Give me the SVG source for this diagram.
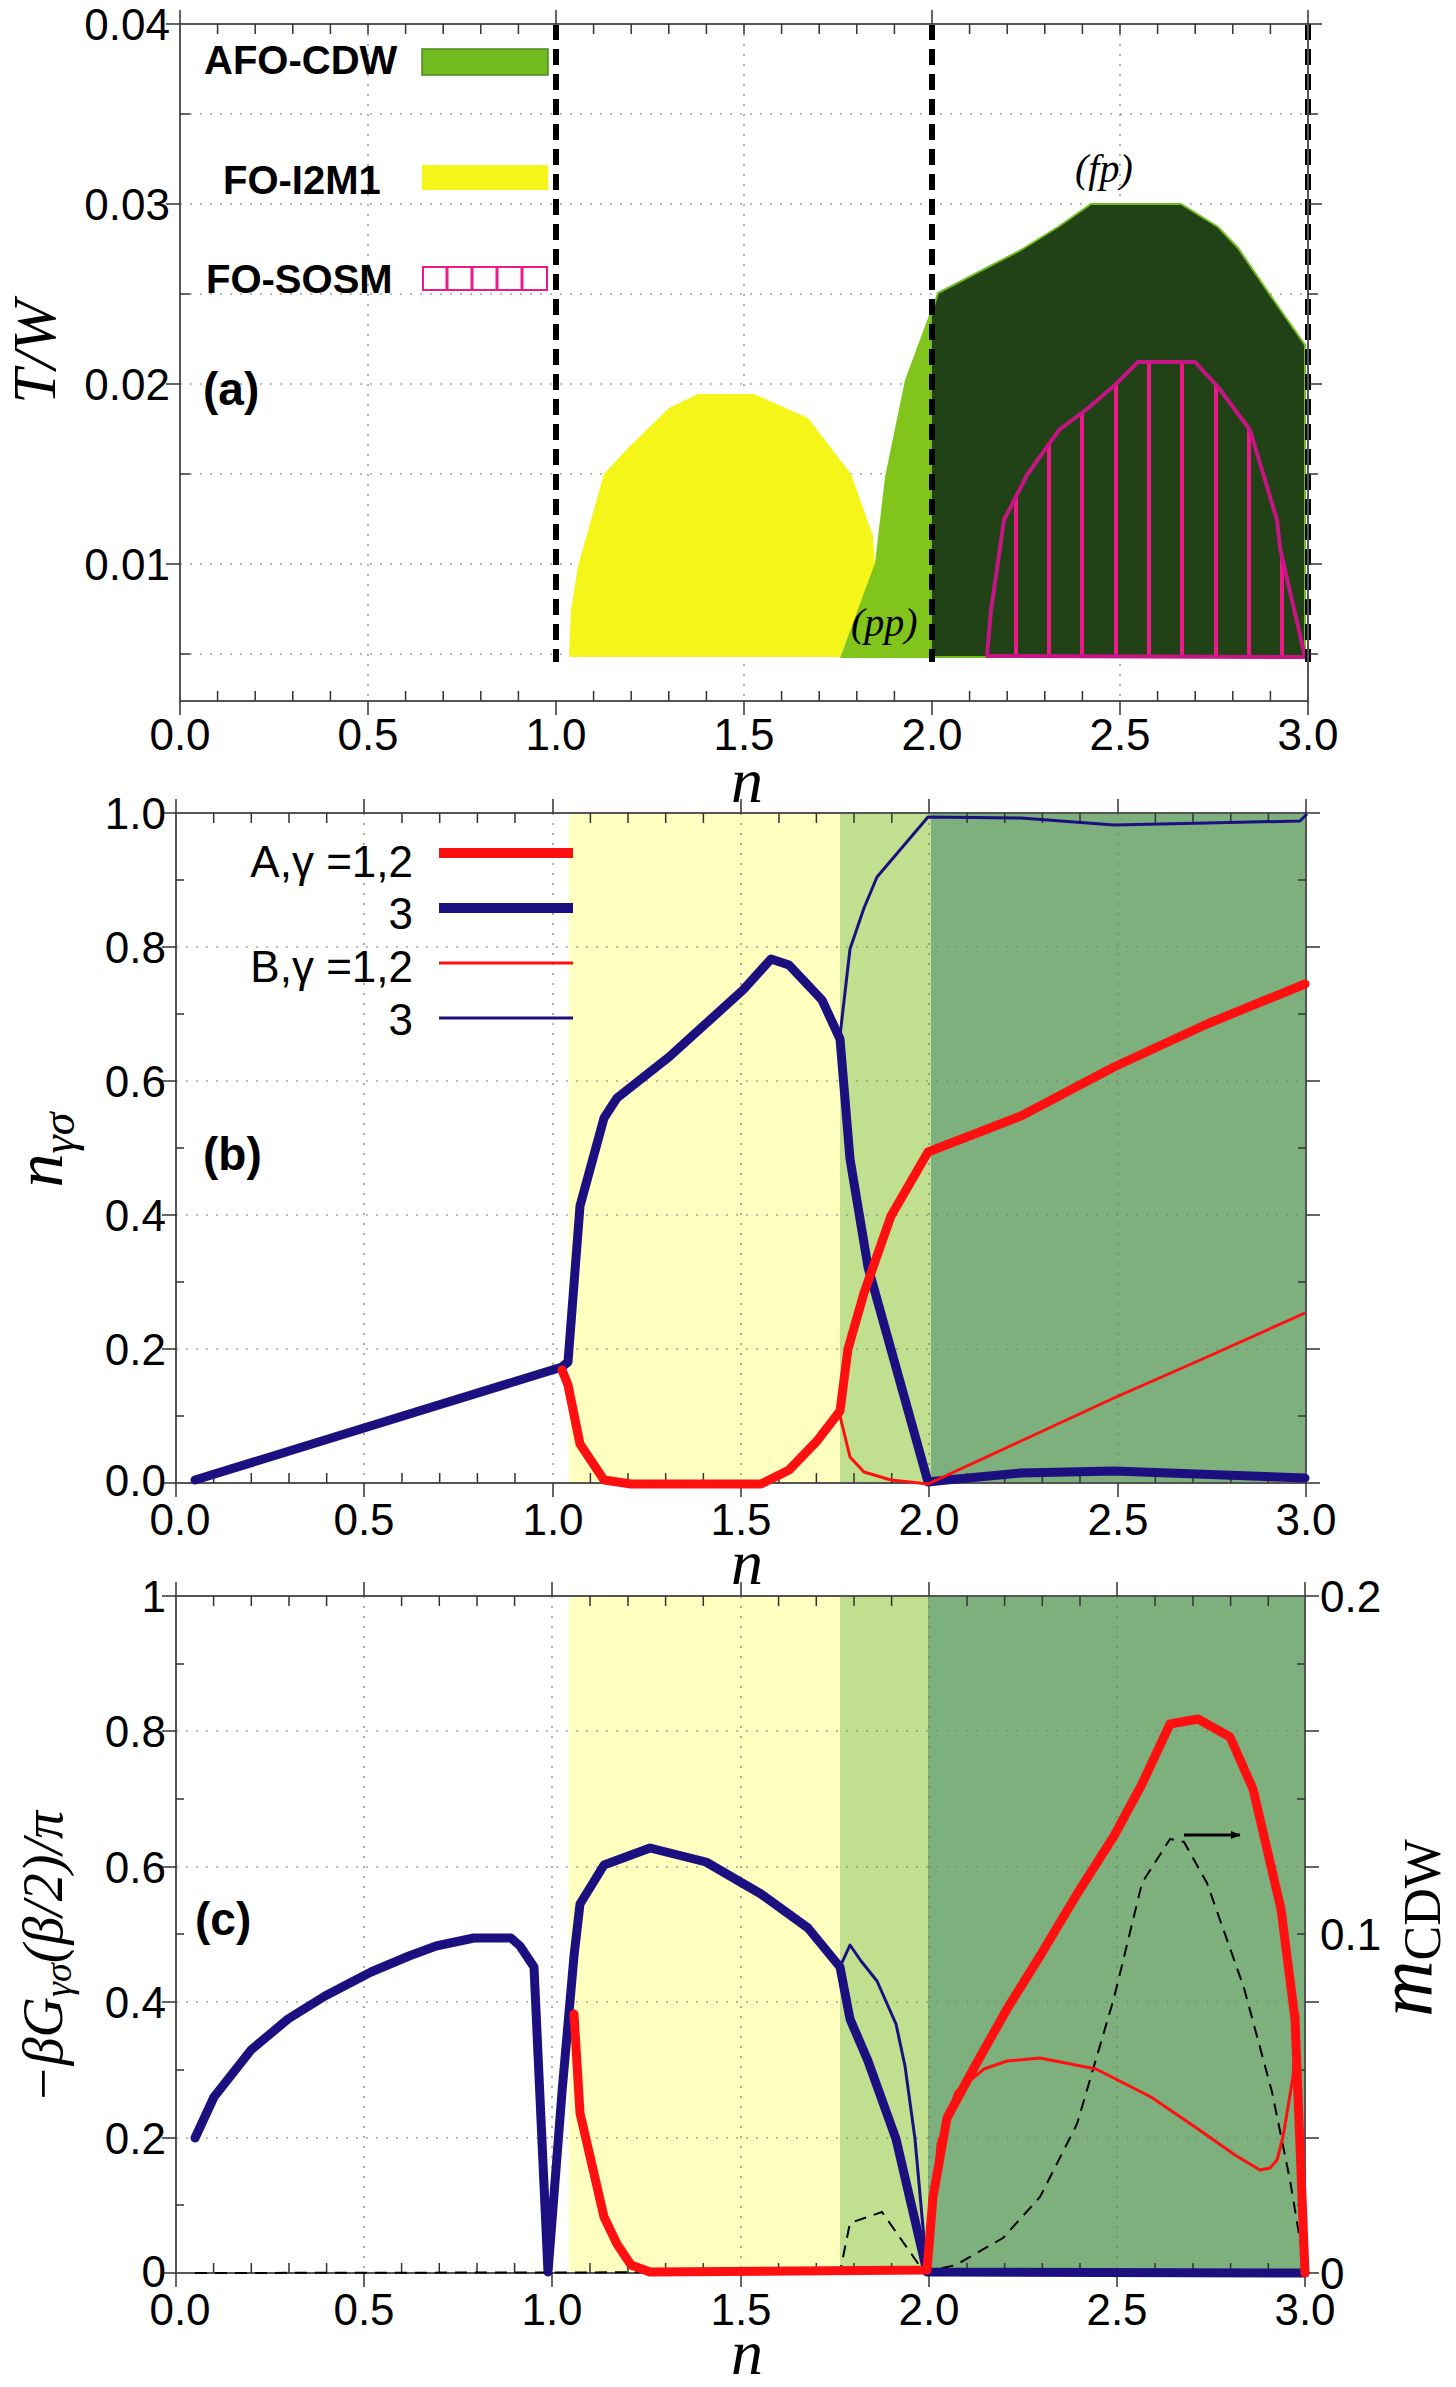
<svg xmlns="http://www.w3.org/2000/svg" width="1456" height="2387" viewBox="0 0 1456 2387">
<style>
.t{font-family:"Liberation Sans",Arial,sans-serif;font-size:44px;fill:#000}
.b{font-family:"Liberation Sans",Arial,sans-serif;font-weight:bold;fill:#000}
.m{font-family:"Liberation Serif","DejaVu Serif",serif;font-style:italic;fill:#000}
.ax{fill:none;stroke:#555;stroke-width:2}
.tk{stroke:#333;stroke-width:1.5}
.gr{stroke:#777;stroke-width:1.2;stroke-dasharray:2 8}
.vd{stroke:#000;stroke-width:6;stroke-dasharray:16 9;fill:none}
.thk{fill:none;stroke-width:9;stroke-linejoin:round;stroke-linecap:round}
.thn{fill:none;stroke-width:3;stroke-linejoin:round}
.red{stroke:#ff1010}
.blu{stroke:#1c1080}
</style>
<defs>
<clipPath id="sosm"><polygon points="987,656 991,610 1004,520 1027,475 1059,430 1087,409 1115,385 1138,362 1195,362 1218,387 1250,430 1277,520 1280,548 1305,657"/></clipPath>
<marker id="ah" markerWidth="10" markerHeight="8" refX="9" refY="4" orient="auto" markerUnits="userSpaceOnUse"><path d="M0,0 L14,4 L0,8 Z" transform="scale(0.7,1)"/></marker>
</defs>
<rect width="1456" height="2387" fill="#fff"/>

<!-- PANEL A -->
<g id="panel-a">
<g id="grid-a">
<line class="gr" x1="180" y1="114" x2="1308" y2="114"/><line class="gr" x1="180" y1="204" x2="1308" y2="204"/><line class="gr" x1="180" y1="294" x2="1308" y2="294"/><line class="gr" x1="180" y1="384" x2="1308" y2="384"/><line class="gr" x1="180" y1="474" x2="1308" y2="474"/><line class="gr" x1="180" y1="564" x2="1308" y2="564"/><line class="gr" x1="180" y1="654" x2="1308" y2="654"/>
<line class="gr" x1="368" y1="24" x2="368" y2="701"/><line class="gr" x1="744" y1="24" x2="744" y2="701"/><line class="gr" x1="1120" y1="24" x2="1120" y2="701"/>
</g>
<polygon id="fo-i2m1" fill="#f5f51a" points="569,657 571,610 578,566 604,474 627,449 669,408 698,394 754,394 808,418 851,474 873,536 875,566 840,657"/>
<polygon id="afo-pp" fill="#80c41c" points="840,658 875,563 885,477 905,380 928,318 936,300 936,658"/>
<polygon id="afo-fp" fill="#214216" stroke="#72bb22" stroke-width="2" points="931,657 931,316 938,293 1021,250 1058,227 1091,204 1181,204 1218,227 1238,248 1277,305 1305,345 1305,657"/>
<g id="fo-sosm">
<g clip-path="url(#sosm)" stroke="#ee1a8a" stroke-width="4">
<line x1="1016" y1="300" x2="1016" y2="660"/><line x1="1049" y1="300" x2="1049" y2="660"/><line x1="1082" y1="300" x2="1082" y2="660"/><line x1="1116" y1="300" x2="1116" y2="660"/><line x1="1149" y1="300" x2="1149" y2="660"/><line x1="1182" y1="300" x2="1182" y2="660"/><line x1="1216" y1="300" x2="1216" y2="660"/><line x1="1249" y1="300" x2="1249" y2="660"/><line x1="1282" y1="300" x2="1282" y2="660"/>
</g>
<polygon fill="none" stroke="#c71585" stroke-width="4" stroke-linejoin="round" points="987,656 991,610 1004,520 1027,475 1059,430 1087,409 1115,385 1138,362 1195,362 1218,387 1250,430 1277,520 1280,548 1305,657"/>
</g>
<g id="dashes-a"><line class="vd" x1="556" y1="24" x2="556" y2="662"/><line class="vd" x1="932" y1="24" x2="932" y2="662"/><line class="vd" x1="1308" y1="24" x2="1308" y2="662"/></g>
<rect class="ax" x="180" y="24" width="1128" height="677"/>
<g id="ticks-a" class="tk">
<path d="M180,24v-14M556,24v-14M932,24v-14M1308,24v-14M180,701v14M368,701v14M556,701v14M744,701v14M932,701v14M1120,701v14M1308,701v14"/>
<path d="M217.6,24v10M255.2,24v10M292.8,24v10M330.4,24v10M368,24v10M405.6,24v10M443.2,24v10M480.8,24v10M518.4,24v10M593.6,24v10M631.2,24v10M668.8,24v10M706.4,24v10M744,24v10M781.6,24v10M819.2,24v10M856.8,24v10M894.4,24v10M969.6,24v10M1007.2,24v10M1044.8,24v10M1082.4,24v10M1120,24v10M1157.6,24v10M1195.2,24v10M1232.8,24v10M1270.4,24v10"/>
<path d="M217.6,701v-10M255.2,701v-10M292.8,701v-10M330.4,701v-10M405.6,701v-10M443.2,701v-10M480.8,701v-10M518.4,701v-10M593.6,701v-10M631.2,701v-10M668.8,701v-10M706.4,701v-10M781.6,701v-10M819.2,701v-10M856.8,701v-10M894.4,701v-10M969.6,701v-10M1007.2,701v-10M1044.8,701v-10M1082.4,701v-10M1157.6,701v-10M1195.2,701v-10M1232.8,701v-10M1270.4,701v-10"/>
<path d="M180,24h-14M180,204h-14M180,384h-14M180,564h-14M180,114h10M180,294h10M180,474h10M180,654h10M1308,24h14M1308,204h14M1308,384h14M1308,564h14M1308,114h10M1308,294h10M1308,474h10M1308,654h10"/>
</g>
<g id="labels-a">
<text class="t" text-anchor="end" x="170" y="40">0.04</text>
<text class="t" text-anchor="end" x="170" y="220">0.03</text>
<text class="t" text-anchor="end" x="170" y="400">0.02</text>
<text class="t" text-anchor="end" x="170" y="580">0.01</text>
<text class="t" text-anchor="middle" x="180" y="750">0.0</text><text class="t" text-anchor="middle" x="368" y="750">0.5</text><text class="t" text-anchor="middle" x="556" y="750">1.0</text><text class="t" text-anchor="middle" x="744" y="750">1.5</text><text class="t" text-anchor="middle" x="932" y="750">2.0</text><text class="t" text-anchor="middle" x="1120" y="750">2.5</text><text class="t" text-anchor="middle" x="1308" y="750">3.0</text>
<text class="m" font-size="64" text-anchor="middle" x="747" y="802">n</text>
<text class="m" font-size="62" text-anchor="middle" transform="translate(55,352) rotate(-90)">T/W</text>
<text class="b" font-size="46" x="203" y="405">(a)</text>
<text class="m" font-size="40" x="1075" y="182">(fp)</text>
<text class="m" font-size="40" x="851" y="636">(pp)</text>
</g>
<g id="legend-a">
<text class="b" font-size="40" x="204" y="74">AFO-CDW</text>
<rect x="422" y="49" width="126" height="26" fill="#72bb22" stroke="#4a8a1a" stroke-width="1.5"/>
<text class="b" font-size="40" x="223" y="194">FO-I2M1</text>
<rect x="422" y="165" width="126" height="25" fill="#f5f51a"/>
<text class="b" font-size="40" x="206" y="293">FO-SOSM</text>
<rect x="423" y="267" width="124" height="23" fill="#fff" stroke="#ee1a8a" stroke-width="2"/>
<path d="M447,267v23M472,267v23M497,267v23M522,267v23" stroke="#ee1a8a" stroke-width="3"/>
</g>
</g>

<!-- PANEL B -->
<g id="panel-b">
<rect x="569" y="813" width="271" height="670" fill="#ffffc0"/>
<rect x="840" y="813" width="91" height="670" fill="#c0e090"/>
<rect x="931" y="813" width="375" height="670" fill="#7db07d"/>
<g id="grid-b">
<line class="gr" x1="176" y1="947" x2="1306" y2="947"/><line class="gr" x1="176" y1="1081" x2="1306" y2="1081"/><line class="gr" x1="176" y1="1215" x2="1306" y2="1215"/><line class="gr" x1="176" y1="1349" x2="1306" y2="1349"/>
<line class="gr" x1="364" y1="813" x2="364" y2="1483"/><line class="gr" x1="553" y1="813" x2="553" y2="1483"/><line class="gr" x1="741" y1="813" x2="741" y2="1483"/><line class="gr" x1="929" y1="813" x2="929" y2="1483"/><line class="gr" x1="1118" y1="813" x2="1118" y2="1483"/>
</g>
<rect class="ax" x="176" y="813" width="1130" height="670"/>
<g class="tk">
<path d="M176,813v-14M364,813v-14M553,813v-14M741,813v-14M929,813v-14M1118,813v-14M1306,813v-14M176,1483v14M364,1483v14M553,1483v14M741,1483v14M929,1483v14M1118,1483v14M1306,1483v14"/>
<path d="M213.7,813v10M251.3,813v10M289,813v10M326.7,813v10M402,813v10M439.7,813v10M477.4,813v10M515,813v10M590.4,813v10M628,813v10M665.7,813v10M703.4,813v10M779,813v10M816.4,813v10M854,813v10M891.8,813v10M967,813v10M1004.7,813v10M1042.4,813v10M1080,813v10M1155.4,813v10M1193,813v10M1230.8,813v10M1268.4,813v10"/>
<path d="M213.7,1483v-10M251.3,1483v-10M289,1483v-10M326.7,1483v-10M402,1483v-10M439.7,1483v-10M477.4,1483v-10M515,1483v-10M590.4,1483v-10M628,1483v-10M665.7,1483v-10M703.4,1483v-10M779,1483v-10M816.4,1483v-10M854,1483v-10M891.8,1483v-10M967,1483v-10M1004.7,1483v-10M1042.4,1483v-10M1080,1483v-10M1155.4,1483v-10M1193,1483v-10M1230.8,1483v-10M1268.4,1483v-10"/>
<path d="M176,813h-14M176,947h-14M176,1081h-14M176,1215h-14M176,1349h-14M176,1483h-14M176,880h8M176,1014h8M176,1148h8M176,1282h8M176,1416h8M1306,813h14M1306,947h14M1306,1081h14M1306,1215h14M1306,1349h14M1306,1483h14M1306,880h-8M1306,1014h-8M1306,1148h-8M1306,1282h-8M1306,1416h-8"/>
</g>
<g id="curves-b">
<polyline class="thk blu" points="195,1480 562,1367 568,1362 580,1206 604,1118 617,1098 669,1057 743,990 771,959 789,965 822,1000 840,1039 850,1159 868,1267 928,1482 947,1480 1021,1473 1114,1471 1305,1478"/>
<polyline class="thk red" points="562,1370 568,1385 580,1444 604,1480 631,1484 761,1484 789,1470 817,1441 840,1411 848,1349 864,1293 891,1216 928,1152 1021,1116 1114,1067 1207,1024 1305,984"/>
<polyline class="thn red" points="840,1416 850,1457 864,1472 891,1480 928,1484 1021,1441 1114,1398 1207,1357 1305,1313"/>
<polyline class="thn blu" points="840,1036 850,949 864,908 877,877 928,817 1021,818 1114,825 1207,823 1300,821 1307,814"/>
</g>
<g id="labels-b">
<text class="t" text-anchor="end" x="166" y="829">1.0</text><text class="t" text-anchor="end" x="166" y="963">0.8</text><text class="t" text-anchor="end" x="166" y="1097">0.6</text><text class="t" text-anchor="end" x="166" y="1231">0.4</text><text class="t" text-anchor="end" x="166" y="1365">0.2</text><text class="t" text-anchor="end" x="166" y="1496">0.0</text>
<text class="t" text-anchor="middle" x="180" y="1535">0.0</text><text class="t" text-anchor="middle" x="364" y="1535">0.5</text><text class="t" text-anchor="middle" x="553" y="1535">1.0</text><text class="t" text-anchor="middle" x="741" y="1535">1.5</text><text class="t" text-anchor="middle" x="929" y="1535">2.0</text><text class="t" text-anchor="middle" x="1118" y="1535">2.5</text><text class="t" text-anchor="middle" x="1306" y="1535">3.0</text>
<text class="m" font-size="64" text-anchor="middle" x="747" y="1584">n</text>
<text class="m" font-size="68" text-anchor="middle" transform="translate(62,1150) rotate(-90)">n<tspan font-size="46" dy="12">γσ</tspan></text>
<text class="b" font-size="46" x="203" y="1170">(b)</text>
</g>
<g id="legend-b">
<text class="t" font-size="54" text-anchor="end" x="413" y="877">A,γ =1,2</text>
<text class="t" font-size="54" text-anchor="end" x="413" y="929">3</text>
<text class="t" font-size="54" text-anchor="end" x="413" y="982">B,γ =1,2</text>
<text class="t" font-size="54" text-anchor="end" x="413" y="1035">3</text>
<line class="red" stroke-width="10" x1="439" y1="853" x2="573" y2="853"/>
<line class="blu" stroke-width="10" x1="439" y1="908" x2="573" y2="908"/>
<line class="red" stroke-width="3" x1="439" y1="963" x2="573" y2="963"/>
<line class="blu" stroke-width="3" x1="439" y1="1018" x2="573" y2="1018"/>
</g>
</g>

<!-- PANEL C -->
<g id="panel-c">
<rect x="569" y="1596" width="271" height="677" fill="#ffffc0"/>
<rect x="840" y="1596" width="88" height="677" fill="#c0e090"/>
<rect x="928" y="1596" width="377" height="677" fill="#7db07d"/>
<g id="grid-c">
<line class="gr" x1="176" y1="1731" x2="1305" y2="1731"/><line class="gr" x1="176" y1="1867" x2="1305" y2="1867"/><line class="gr" x1="176" y1="2002" x2="1305" y2="2002"/><line class="gr" x1="176" y1="2138" x2="1305" y2="2138"/>
<line class="gr" x1="364" y1="1596" x2="364" y2="2273"/><line class="gr" x1="552" y1="1596" x2="552" y2="2273"/><line class="gr" x1="741" y1="1596" x2="741" y2="2273"/><line class="gr" x1="929" y1="1596" x2="929" y2="2273"/><line class="gr" x1="1117" y1="1596" x2="1117" y2="2273"/>
</g>
<rect class="ax" x="176" y="1596" width="1129" height="677"/>
<g class="tk">
<path d="M176,1596v-14M364,1596v-14M552,1596v-14M741,1596v-14M929,1596v-14M1117,1596v-14M1305,1596v-14M176,2273v14M364,2273v14M552,2273v14M741,2273v14M929,2273v14M1117,2273v14M1305,2273v14"/>
<path d="M213.6,1596v10M251.3,1596v10M289,1596v10M326.6,1596v10M401.6,1596v10M439.3,1596v10M477,1596v10M514.6,1596v10M590,1596v10M628,1596v10M665.6,1596v10M703.3,1596v10M778.6,1596v10M816.3,1596v10M854,1596v10M891.6,1596v10M967,1596v10M1004.6,1596v10M1042.3,1596v10M1080,1596v10M1155,1596v10M1193,1596v10M1230.6,1596v10M1268.3,1596v10"/>
<path d="M213.6,2273v-10M251.3,2273v-10M289,2273v-10M326.6,2273v-10M401.6,2273v-10M439.3,2273v-10M477,2273v-10M514.6,2273v-10M590,2273v-10M628,2273v-10M665.6,2273v-10M703.3,2273v-10M778.6,2273v-10M816.3,2273v-10M854,2273v-10M891.6,2273v-10M967,2273v-10M1004.6,2273v-10M1042.3,2273v-10M1080,2273v-10M1155,2273v-10M1193,2273v-10M1230.6,2273v-10M1268.3,2273v-10"/>
<path d="M176,1596h-14M176,1731h-14M176,1867h-14M176,2002h-14M176,2138h-14M176,2273h-14M176,1664h8M176,1799h8M176,1934h8M176,2070h8M176,2205h8M1305,1596h14M1305,1731h14M1305,1867h14M1305,2002h14M1305,2138h14M1305,2273h14M1305,1664h-8M1305,1799h-8M1305,1934h-8M1305,2070h-8M1305,2205h-8"/>
</g>
<g id="curves-c">
<polyline fill="none" stroke="#000" stroke-width="2" stroke-dasharray="12 8" points="195,2273 840,2272 850,2223 882,2212 924,2272 956,2265 1003,2238 1040,2197 1077,2124 1114,1998 1142,1883 1170,1839 1184,1842 1207,1883 1244,1988 1272,2092 1290,2180 1305,2270"/>
<polyline class="thn blu" points="840,1967 850,1945 861,1961 877,1981 896,2024 905,2066 915,2139 927,2272"/>
<polyline class="thk blu" points="195,2138 214,2097 251,2050 288,2019 325,1996 371,1972 409,1956 436,1946 474,1938 511,1938 520,1946 534,1967 548,2272 562,2092 574,1956 580,1904 604,1865 650,1848 706,1862 761,1894 808,1928 840,1967 850,2019 868,2061 896,2139 927,2272 1305,2273"/>
<polyline class="thn red" points="929,2272 938,2144 956,2092 984,2069 1007,2061 1040,2058 1096,2069 1151,2097 1198,2129 1235,2155 1260,2170 1270,2168 1277,2160 1283,2137 1293,2077 1298,2013"/>
<polyline class="thk red" points="574,2014 580,2113 604,2217 617,2244 631,2265 650,2272 927,2270 933,2197 947,2118 975,2066 1007,2009 1040,1956 1077,1894 1114,1836 1142,1784 1170,1724 1198,1719 1230,1737 1253,1789 1281,1909 1295,2019 1305,2273"/>
<line stroke="#000" stroke-width="3" x1="1184" y1="1835" x2="1240" y2="1835" marker-end="url(#ah)"/>
</g>
<g id="labels-c">
<text class="t" text-anchor="end" x="166" y="1612">1</text><text class="t" text-anchor="end" x="166" y="1747">0.8</text><text class="t" text-anchor="end" x="166" y="1883">0.6</text><text class="t" text-anchor="end" x="166" y="2018">0.4</text><text class="t" text-anchor="end" x="166" y="2154">0.2</text><text class="t" text-anchor="end" x="166" y="2287">0</text>
<text class="t" x="1320" y="1612">0.2</text><text class="t" x="1320" y="1950">0.1</text><text class="t" x="1320" y="2289">0</text>
<text class="t" text-anchor="middle" x="180" y="2325">0.0</text><text class="t" text-anchor="middle" x="364" y="2325">0.5</text><text class="t" text-anchor="middle" x="552" y="2325">1.0</text><text class="t" text-anchor="middle" x="741" y="2325">1.5</text><text class="t" text-anchor="middle" x="929" y="2325">2.0</text><text class="t" text-anchor="middle" x="1117" y="2325">2.5</text><text class="t" text-anchor="middle" x="1305" y="2325">3.0</text>
<text class="m" font-size="64" text-anchor="middle" x="747" y="2374">n</text>
<text class="m" font-size="56" text-anchor="middle" transform="translate(62,1957) rotate(-90)">−βG<tspan font-size="38" dy="9">γσ</tspan><tspan dy="-9">(β/2)/π</tspan></text>
<text class="m" font-size="78" text-anchor="middle" transform="translate(1432,1928) rotate(-90)">m<tspan font-style="normal" font-size="52" dy="8">CDW</tspan></text>
<text class="b" font-size="46" x="195" y="1935">(c)</text>
</g>
</g>
</svg>
